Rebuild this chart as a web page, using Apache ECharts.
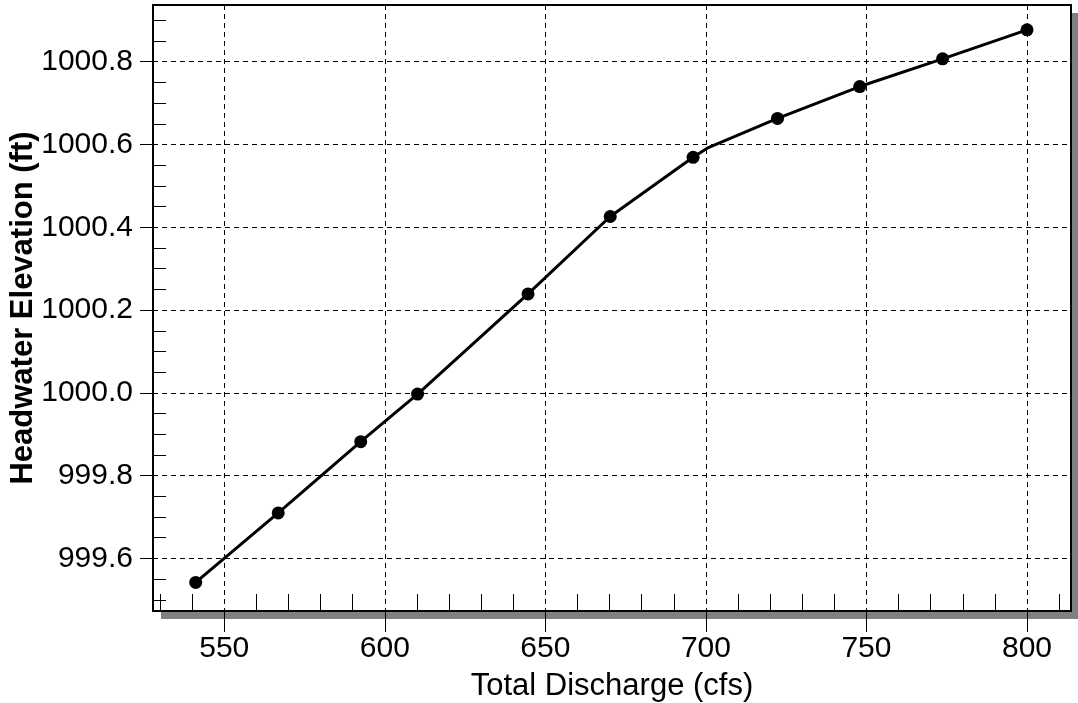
<!DOCTYPE html>
<html>
<head>
<meta charset="utf-8">
<title>Headwater Elevation vs Total Discharge</title>
<script src="https://cdn.jsdelivr.net/npm/echarts@6/dist/echarts.min.js"></script>
<style>
  html, body { margin: 0; padding: 0; background: #ffffff; }
  #chart { width: 1078px; height: 703px; }
</style>
</head>
<body>
<div id="chart"></div>
<script>
// Rating curve: total discharge (cfs) against headwater elevation (ft)
const discharge = [541.1, 566.8, 592.5, 610.2, 644.6, 670.2, 696.0, 700.4, 722.3, 747.9, 773.7, 800.0];
const headwater = [999.542, 999.710, 999.882, 999.997, 1000.239, 1000.426, 1000.569, 1000.591, 1000.663, 1000.740, 1000.807, 1000.877];
// the bend just past 700 cfs is a vertex of the curve without a marker
const hasMarker = [true, true, true, true, true, true, true, false, true, true, true, true];

// axis extents
const xRange = [527.8, 813.7];
const yRange = [999.473, 1000.937];

// labelled (major) ticks
const xMajorTicks = [550, 600, 650, 700, 750, 800];
const yMajorTicks = [999.6, 999.8, 1000.0, 1000.2, 1000.4, 1000.6, 1000.8];

// small inward ticks
const xMinorTicks = [530, 540, 560, 570, 580, 590, 610, 620, 630, 640, 660, 670, 680, 690,
                     710, 720, 730, 740, 760, 770, 780, 790, 810];
const yMinorTicks = [999.5, 999.55, 999.65, 999.7, 999.75, 999.85, 999.9, 999.95,
                     1000.05, 1000.1, 1000.15, 1000.25, 1000.3, 1000.35, 1000.45, 1000.5,
                     1000.55, 1000.65, 1000.7, 1000.75, 1000.85, 1000.9];

const FONT = '"Liberation Sans", Arial, sans-serif';
const INK = '#000000';

const points = discharge.map((q, i) => {
  const item = { value: [q, headwater[i]] };
  if (!hasMarker[i]) item.symbol = 'none';
  return item;
});

const dashed = { color: INK, width: 1, type: [5, 4] };
const frameLine = { show: true, lineStyle: { color: INK, width: 2 } };

// axis that only draws one side of the plot frame
function frameAxis(position, range) {
  return {
    type: 'value',
    min: range[0], max: range[1],
    position: position,
    offset: 0,
    axisLine: frameLine,
    axisTick: { show: false },
    axisLabel: { show: false },
    splitLine: { show: false }
  };
}

const option = {
  animation: false,
  backgroundColor: '#ffffff',
  grid: {
    show: true,
    left: 153, top: 5, right: 7, bottom: 92,
    containLabel: false,
    outerBoundsMode: 'none',
    backgroundColor: '#ffffff',
    borderWidth: 0,
    borderColor: 'transparent',
    shadowColor: '#808080',
    shadowBlur: 0,
    shadowOffsetX: 8,
    shadowOffsetY: 8
  },
  xAxis: [
    {
      type: 'value',
      min: xRange[0], max: xRange[1],
      position: 'bottom',
      name: 'Total Discharge (cfs)',
      nameLocation: 'middle',
      nameGap: 60,
      nameMoveOverlap: false,
      nameTextStyle: { color: INK, fontFamily: FONT, fontSize: 31 },
      axisLine: frameLine,
      axisTick: { show: true, inside: false, length: 21, lineStyle: { color: INK, width: 1 }, customValues: xMajorTicks },
      axisLabel: { show: true, margin: 23, color: INK, fontFamily: FONT, fontSize: 30, customValues: xMajorTicks,
                   formatter: v => String(Math.round(v)) },
      splitLine: { show: true, lineStyle: dashed },
      minorTick: { show: false },
      minorSplitLine: { show: false }
    },
    {
      type: 'value',
      min: xRange[0], max: xRange[1],
      position: 'bottom',
      offset: 0,
      axisLine: { show: false },
      axisTick: { show: true, inside: true, length: 17, lineStyle: { color: INK, width: 1 }, customValues: xMinorTicks },
      axisLabel: { show: false },
      splitLine: { show: false }
    },
    frameAxis('top', xRange)
  ],
  yAxis: [
    {
      type: 'value',
      min: yRange[0], max: yRange[1],
      position: 'left',
      name: 'Headwater Elevation (ft)',
      nameLocation: 'middle',
      nameGap: 114,
      nameMoveOverlap: false,
      nameTextStyle: { color: INK, fontFamily: FONT, fontSize: 31, fontWeight: 'bold' },
      axisLine: frameLine,
      axisTick: { show: true, inside: false, length: 13, lineStyle: { color: INK, width: 1 }, customValues: yMajorTicks },
      axisLabel: { show: true, margin: 20, color: INK, fontFamily: FONT, fontSize: 30, customValues: yMajorTicks,
                   formatter: v => v.toFixed(1) },
      splitLine: { show: true, lineStyle: dashed },
      minorTick: { show: false },
      minorSplitLine: { show: false }
    },
    {
      type: 'value',
      min: yRange[0], max: yRange[1],
      position: 'left',
      offset: 0,
      axisLine: { show: false },
      axisTick: { show: true, inside: true, length: 13, lineStyle: { color: INK, width: 1 }, customValues: yMinorTicks },
      axisLabel: { show: false },
      splitLine: { show: false }
    },
    frameAxis('right', yRange)
  ],
  series: [
    {
      type: 'line',
      xAxisIndex: 0,
      yAxisIndex: 0,
      data: points,
      smooth: false,
      symbol: 'circle',
      symbolSize: 13,
      showSymbol: true,
      lineStyle: { color: INK, width: 3 },
      itemStyle: { color: INK, borderWidth: 0 },
      emphasis: { disabled: true },
      z: 5
    }
  ]
};

const chart = echarts.init(document.getElementById('chart'), null, { renderer: 'canvas' });
chart.setOption(option);
</script>
</body>
</html>
